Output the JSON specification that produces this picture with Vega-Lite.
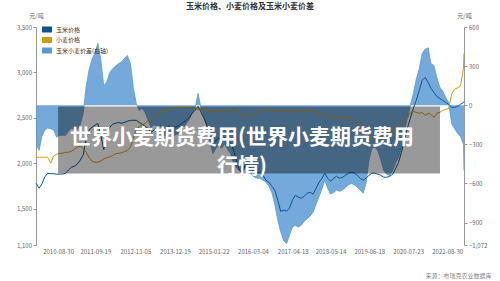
{
  "$schema": "https://vega.github.io/schema/vega-lite/v6.json",
  "width": 428,
  "height": 218,
  "autosize": {"type": "none"},
  "padding": {"left": 36, "top": 27, "right": 36, "bottom": 36},
  "background": "white",
  "config": {
    "view": {"stroke": null},
    "font": "Noto Sans CJK SC",
    "axis": {"grid": false},
    "axisX": {
      "labelExpr": "utcFormat(datum.value, '%Y-%m-%d')",
      "labelFontSize": 6, "labelColor": "#666666", "labelPadding": 3, "labelFlush": false, "labelOverlap": false,
      "domain": false, "ticks": false,
      "titleFontSize": 6, "titleFontWeight": "normal", "titleColor": "#888888",
      "titleX": 455, "titleY": 30, "titleAlign": "right", "titleBaseline": "middle"
    }
  },
  "title": {
    "text": "玉米价格、小麦价格及玉米小麦价差",
    "frame": "group",
    "anchor": "middle",
    "offset": 1,
    "dy": 7,
    "baseline": "bottom",
    "fontSize": 8,
    "fontWeight": "bold",
    "color": "#333333"
  },
  "data": {
    "values": [
      {"date": "2010-01-15", "玉米价格": 1780, "小麦价格": 2066, "玉米小麦价差(右轴)": -300},
      {"date": "2010-02-15", "玉米价格": 1725, "小麦价格": 2066, "玉米小麦价差(右轴)": -345},
      {"date": "2010-03-15", "玉米价格": 1770, "小麦价格": 2066, "玉米小麦价差(右轴)": -240},
      {"date": "2010-04-15", "玉米价格": 1850, "小麦价格": 2066, "玉米小麦价差(右轴)": -190},
      {"date": "2010-05-15", "玉米价格": 1890, "小麦价格": 2066, "玉米小麦价差(右轴)": -175},
      {"date": "2010-06-15", "玉米价格": 1885, "小麦价格": 2000, "玉米小麦价差(右轴)": -180},
      {"date": "2010-07-15", "玉米价格": 1885, "小麦价格": 2080, "玉米小麦价差(右轴)": -190},
      {"date": "2010-08-15", "玉米价格": 1880, "小麦价格": 2099, "玉米小麦价差(右轴)": -245},
      {"date": "2010-09-15", "玉米价格": 1880, "小麦价格": 2110, "玉米小麦价差(右轴)": -230},
      {"date": "2010-10-15", "玉米价格": 1880, "小麦价格": 2110, "玉米小麦价差(右轴)": -230},
      {"date": "2010-11-15", "玉米价格": 1890, "小麦价格": 2121, "玉米小麦价差(右轴)": -230},
      {"date": "2010-12-15", "玉米价格": 1925, "小麦价格": 2121, "玉米小麦价差(右轴)": -200},
      {"date": "2011-01-15", "玉米价格": 1956, "小麦价格": 2132, "玉米小麦价差(右轴)": -175},
      {"date": "2011-02-15", "玉米价格": 1967, "小麦价格": 2154, "玉米小麦价差(右轴)": -185},
      {"date": "2011-03-15", "玉米价格": 1990, "小麦价格": 2176, "玉米小麦价差(右轴)": -185},
      {"date": "2011-04-15", "玉米价格": 2033, "小麦价格": 2187, "玉米小麦价差(右轴)": -150},
      {"date": "2011-05-15", "玉米价格": 2088, "小麦价格": 2165, "玉米小麦价差(右轴)": -70},
      {"date": "2011-06-15", "玉米价格": 2253, "小麦价格": 2121, "玉米小麦价差(右轴)": 137},
      {"date": "2011-07-15", "玉米价格": 2363, "小麦价格": 2066, "玉米小麦价差(右轴)": 267},
      {"date": "2011-08-15", "玉米价格": 2396, "小麦价格": 2022, "玉米小麦价差(右轴)": 350},
      {"date": "2011-09-15", "玉米价格": 2418, "小麦价格": 2011, "玉米小麦价差(右轴)": 405},
      {"date": "2011-10-15", "玉米价格": 2440, "小麦价格": 2011, "玉米小麦价差(右轴)": 475},
      {"date": "2011-11-15", "玉米价格": 2308, "小麦价格": 2025, "玉米小麦价差(右轴)": 344},
      {"date": "2011-12-15", "玉米价格": 2150, "小麦价格": 2050, "玉米小麦价差(右轴)": 150},
      {"date": "2012-01-15", "玉米价格": 2330, "小麦价格": 2060, "玉米小麦价差(右轴)": 180},
      {"date": "2012-02-15", "玉米价格": 2396, "小麦价格": 2072, "玉米小麦价差(右轴)": 250},
      {"date": "2012-03-15", "玉米价格": 2429, "小麦价格": 2085, "玉米小麦价差(右轴)": 280},
      {"date": "2012-04-15", "玉米价格": 2440, "小麦价格": 2105, "玉米小麦价差(右轴)": 300},
      {"date": "2012-05-15", "玉米价格": 2450, "小麦价格": 2110, "玉米小麦价差(右轴)": 320},
      {"date": "2012-06-15", "玉米价格": 2440, "小麦价格": 2115, "玉米小麦价差(右轴)": 330},
      {"date": "2012-07-15", "玉米价格": 2450, "小麦价格": 2128, "玉米小麦价差(右轴)": 360},
      {"date": "2012-08-15", "玉米价格": 2462, "小麦价格": 2140, "玉米小麦价差(右轴)": 382},
      {"date": "2012-09-15", "玉米价格": 2473, "小麦价格": 2180, "玉米小麦价差(右轴)": 321},
      {"date": "2012-10-15", "玉米价格": 2473, "小麦价格": 2275, "玉米小麦价差(右轴)": 137},
      {"date": "2012-11-15", "玉米价格": 2473, "小麦价格": 2380, "玉米小麦价差(右轴)": 10},
      {"date": "2012-12-15", "玉米价格": 2450, "小麦价格": 2400, "玉米小麦价差(右轴)": -40},
      {"date": "2013-01-15", "玉米价格": 2429, "小麦价格": 2425, "玉米小麦价差(右轴)": -20},
      {"date": "2013-02-15", "玉米价格": 2407, "小麦价格": 2440, "玉米小麦价差(右轴)": -60},
      {"date": "2013-03-15", "玉米价格": 2385, "小麦价格": 2470, "玉米小麦价差(右轴)": -110},
      {"date": "2013-04-15", "玉米价格": 2341, "小麦价格": 2485, "玉米小麦价差(右轴)": -170},
      {"date": "2013-05-15", "玉米价格": 2363, "小麦价格": 2505, "玉米小麦价差(右轴)": -150},
      {"date": "2013-06-15", "玉米价格": 2396, "小麦价格": 2535, "玉米小麦价差(右轴)": -160},
      {"date": "2013-07-15", "玉米价格": 2418, "小麦价格": 2560, "玉米小麦价差(右轴)": -140},
      {"date": "2013-08-15", "玉米价格": 2385, "小麦价格": 2576, "玉米小麦价差(右轴)": -210},
      {"date": "2013-09-15", "玉米价格": 2363, "小麦价格": 2588, "玉米小麦价差(右轴)": -240},
      {"date": "2013-10-15", "玉米价格": 2407, "小麦价格": 2598, "玉米小麦价差(右轴)": -200},
      {"date": "2013-11-15", "玉米价格": 2385, "小麦价格": 2605, "玉米小麦价差(右轴)": -240},
      {"date": "2013-12-15", "玉米价格": 2396, "小麦价格": 2615, "玉米小麦价差(右轴)": -230},
      {"date": "2014-01-15", "玉米价格": 2407, "小麦价格": 2615, "玉米小麦价差(右轴)": -220},
      {"date": "2014-02-15", "玉米价格": 2429, "小麦价格": 2615, "玉米小麦价差(右轴)": -190},
      {"date": "2014-03-15", "玉米价格": 2450, "小麦价格": 2615, "玉米小麦价差(右轴)": -170},
      {"date": "2014-04-15", "玉米价格": 2473, "小麦价格": 2615, "玉米小麦价差(右轴)": -140},
      {"date": "2014-05-15", "玉米价格": 2505, "小麦价格": 2615, "玉米小麦价差(右轴)": -110},
      {"date": "2014-06-15", "玉米价格": 2550, "小麦价格": 2610, "玉米小麦价差(右轴)": -60},
      {"date": "2014-07-15", "玉米价格": 2582, "小麦价格": 2604, "玉米小麦价差(右轴)": -20},
      {"date": "2014-08-15", "玉米价格": 2626, "小麦价格": 2595, "玉米小麦价差(右轴)": 90},
      {"date": "2014-09-15", "玉米价格": 2560, "小麦价格": 2592, "玉米小麦价差(右轴)": -30},
      {"date": "2014-10-15", "玉米价格": 2495, "小麦价格": 2585, "玉米小麦价差(右轴)": -90},
      {"date": "2014-11-15", "玉米价格": 2418, "小麦价格": 2582, "玉米小麦价差(右轴)": -165},
      {"date": "2014-12-15", "玉米价格": 2308, "小麦价格": 2582, "玉米小麦价差(右轴)": -275},
      {"date": "2015-01-15", "玉米价格": 2210, "小麦价格": 2582, "玉米小麦价差(右轴)": -370},
      {"date": "2015-02-15", "玉米价格": 2253, "小麦价格": 2582, "玉米小麦价差(右轴)": -330},
      {"date": "2015-03-15", "玉米价格": 2275, "小麦价格": 2582, "玉米小麦价差(右轴)": -305},
      {"date": "2015-04-15", "玉米价格": 2253, "小麦价格": 2582, "玉米小麦价差(右轴)": -330},
      {"date": "2015-05-15", "玉米价格": 2286, "小麦价格": 2582, "玉米小麦价差(右轴)": -295},
      {"date": "2015-06-15", "玉米价格": 2253, "小麦价格": 2590, "玉米小麦价差(右轴)": -335},
      {"date": "2015-07-15", "玉米价格": 2220, "小麦价格": 2593, "玉米小麦价差(右轴)": -370},
      {"date": "2015-08-15", "玉米价格": 2150, "小麦价格": 2588, "玉米小麦价差(右轴)": -440},
      {"date": "2015-09-15", "玉米价格": 2033, "小麦价格": 2582, "玉米小麦价差(右轴)": -480},
      {"date": "2015-10-15", "玉米价格": 1923, "小麦价格": 2570, "玉米小麦价差(右轴)": -500},
      {"date": "2015-11-15", "玉米价格": 1901, "小麦价格": 2545, "玉米小麦价差(右轴)": -520},
      {"date": "2015-12-15", "玉米价格": 1978, "小麦价格": 2527, "玉米小麦价差(右轴)": -480},
      {"date": "2016-01-15", "玉米价格": 2000, "小麦价格": 2518, "玉米小麦价差(右轴)": -470},
      {"date": "2016-02-15", "玉米价格": 1945, "小麦价格": 2520, "玉米小麦价差(右轴)": -530},
      {"date": "2016-03-15", "玉米价格": 1901, "小麦价格": 2545, "玉米小麦价差(右轴)": -550},
      {"date": "2016-04-15", "玉米价格": 1890, "小麦价格": 2560, "玉米小麦价差(右轴)": -560},
      {"date": "2016-05-15", "玉米价格": 1901, "小麦价格": 2582, "玉米小麦价差(右轴)": -560},
      {"date": "2016-06-15", "玉米价格": 1868, "小麦价格": 2590, "玉米小麦价差(右轴)": -575},
      {"date": "2016-07-15", "玉米价格": 1813, "小麦价格": 2590, "玉米小麦价差(右轴)": -590},
      {"date": "2016-08-15", "玉米价格": 1791, "小麦价格": 2585, "玉米小麦价差(右轴)": -620},
      {"date": "2016-09-15", "玉米价格": 1747, "小麦价格": 2582, "玉米小麦价差(右轴)": -670},
      {"date": "2016-10-15", "玉米价格": 1703, "小麦价格": 2582, "玉米小麦价差(右轴)": -760},
      {"date": "2016-11-15", "玉米价格": 1593, "小麦价格": 2582, "玉米小麦价差(右轴)": -880},
      {"date": "2016-12-15", "玉米价格": 1470, "小麦价格": 2582, "玉米小麦价差(右轴)": -970},
      {"date": "2017-01-15", "玉米价格": 1484, "小麦价格": 2582, "玉米小麦价差(右轴)": -1040},
      {"date": "2017-02-15", "玉米价格": 1473, "小麦价格": 2582, "玉米小麦价差(右轴)": -1060},
      {"date": "2017-03-15", "玉米价格": 1505, "小麦价格": 2582, "玉米小麦价差(右轴)": -1000},
      {"date": "2017-04-15", "玉米价格": 1593, "小麦价格": 2582, "玉米小麦价差(右轴)": -935},
      {"date": "2017-05-15", "玉米价格": 1648, "小麦价格": 2582, "玉米小麦价差(右轴)": -920},
      {"date": "2017-06-15", "玉米价格": 1626, "小麦价格": 2582, "玉米小麦价差(右轴)": -935},
      {"date": "2017-07-15", "玉米价格": 1615, "小麦价格": 2582, "玉米小麦价差(右轴)": -920},
      {"date": "2017-08-15", "玉米价格": 1637, "小麦价格": 2582, "玉米小麦价差(右轴)": -890},
      {"date": "2017-09-15", "玉米价格": 1670, "小麦价格": 2582, "玉米小麦价差(右轴)": -870},
      {"date": "2017-10-15", "玉米价格": 1681, "小麦价格": 2582, "玉米小麦价差(右轴)": -850},
      {"date": "2017-11-15", "玉米价格": 1659, "小麦价格": 2575, "玉米小麦价差(右轴)": -820},
      {"date": "2017-12-15", "玉米价格": 1725, "小麦价格": 2560, "玉米小麦价差(右轴)": -760},
      {"date": "2018-01-15", "玉米价格": 1791, "小麦价格": 2552, "玉米小麦价差(右轴)": -700},
      {"date": "2018-02-15", "玉米价格": 1835, "小麦价格": 2545, "玉米小麦价差(右轴)": -640},
      {"date": "2018-03-15", "玉米价格": 1890, "小麦价格": 2530, "玉米小麦价差(右轴)": -575},
      {"date": "2018-04-15", "玉米价格": 1835, "小麦价格": 2520, "玉米小麦价差(右轴)": -640},
      {"date": "2018-05-15", "玉米价格": 1802, "小麦价格": 2516, "玉米小麦价差(右轴)": -680},
      {"date": "2018-06-15", "玉米价格": 1835, "小麦价格": 2512, "玉米小麦价差(右轴)": -670},
      {"date": "2018-07-15", "玉米价格": 1857, "小麦价格": 2508, "玉米小麦价差(右轴)": -650},
      {"date": "2018-08-15", "玉米价格": 1835, "小麦价格": 2505, "玉米小麦价差(右轴)": -660},
      {"date": "2018-09-15", "玉米价格": 1846, "小麦价格": 2503, "玉米小麦价差(右轴)": -650},
      {"date": "2018-10-15", "玉米价格": 1868, "小麦价格": 2500, "玉米小麦价差(右轴)": -630},
      {"date": "2018-11-15", "玉米价格": 1890, "小麦价格": 2497, "玉米小麦价差(右轴)": -610},
      {"date": "2018-12-15", "玉米价格": 1901, "小麦价格": 2480, "玉米小麦价差(右轴)": -600},
      {"date": "2019-01-15", "玉米价格": 1890, "小麦价格": 2460, "玉米小麦价差(右轴)": -610},
      {"date": "2019-02-15", "玉米价格": 1868, "小麦价格": 2445, "玉米小麦价差(右轴)": -630},
      {"date": "2019-03-15", "玉米价格": 1835, "小麦价格": 2425, "玉米小麦价差(右轴)": -650},
      {"date": "2019-04-15", "玉米价格": 1813, "小麦价格": 2405, "玉米小麦价差(右轴)": -675},
      {"date": "2019-05-15", "玉米价格": 1835, "小麦价格": 2340, "玉米小麦价差(右轴)": -600},
      {"date": "2019-06-15", "玉米价格": 1868, "小麦价格": 2253, "玉米小麦价差(右轴)": -420},
      {"date": "2019-07-15", "玉米价格": 1890, "小麦价格": 2275, "玉米小麦价差(右轴)": -330},
      {"date": "2019-08-15", "玉米价格": 1890, "小麦价格": 2286, "玉米小麦价差(右轴)": -320},
      {"date": "2019-09-15", "玉米价格": 1879, "小麦价格": 2286, "玉米小麦价差(右轴)": -350},
      {"date": "2019-10-15", "玉米价格": 1868, "小麦价格": 2290, "玉米小麦价差(右轴)": -420},
      {"date": "2019-11-15", "玉米价格": 1846, "小麦价格": 2297, "玉米小麦价差(右轴)": -500},
      {"date": "2019-12-15", "玉米价格": 1846, "小麦价格": 2319, "玉米小麦价差(右轴)": -530},
      {"date": "2020-01-15", "玉米价格": 1857, "小麦价格": 2341, "玉米小麦价差(右轴)": -540},
      {"date": "2020-02-15", "玉米价格": 1879, "小麦价格": 2363, "玉米小麦价差(右轴)": -500},
      {"date": "2020-03-15", "玉米价格": 1940, "小麦价格": 2390, "玉米小麦价差(右轴)": -440},
      {"date": "2020-04-15", "玉米价格": 2010, "小麦价格": 2418, "玉米小麦价差(右轴)": -400},
      {"date": "2020-05-15", "玉米价格": 2121, "小麦价格": 2440, "玉米小麦价差(右轴)": -330},
      {"date": "2020-06-15", "玉米价格": 2253, "小麦价格": 2462, "玉米小麦价差(右轴)": -200},
      {"date": "2020-07-15", "玉米价格": 2385, "小麦价格": 2495, "玉米小麦价差(右轴)": -100},
      {"date": "2020-08-15", "玉米价格": 2495, "小麦价格": 2560, "玉米小麦价差(右轴)": 0},
      {"date": "2020-09-15", "玉米价格": 2604, "小麦价格": 2571, "玉米小麦价差(右轴)": 90},
      {"date": "2020-10-15", "玉米价格": 2692, "小麦价格": 2560, "玉米小麦价差(右轴)": 200},
      {"date": "2020-11-15", "玉米价格": 2802, "小麦价格": 2549, "玉米小麦价差(右轴)": 280},
      {"date": "2020-12-15", "玉米价格": 2912, "小麦价格": 2560, "玉米小麦价差(右轴)": 397},
      {"date": "2021-01-15", "玉米价格": 2945, "小麦价格": 2527, "玉米小麦价差(右轴)": 430},
      {"date": "2021-02-15", "玉米价格": 2890, "小麦价格": 2549, "玉米小麦价差(右轴)": 440},
      {"date": "2021-03-15", "玉米价格": 2824, "小麦价格": 2538, "玉米小麦价差(右轴)": 320},
      {"date": "2021-04-15", "玉米价格": 2780, "小麦价格": 2505, "玉米小麦价差(右轴)": 305},
      {"date": "2021-05-15", "玉米价格": 2736, "小麦价格": 2549, "玉米小麦价差(右轴)": 214},
      {"date": "2021-06-15", "玉米价格": 2714, "小麦价格": 2560, "玉米小麦价差(右轴)": 138},
      {"date": "2021-07-15", "玉米价格": 2692, "小麦价格": 2582, "玉米小麦价差(右轴)": 110},
      {"date": "2021-08-15", "玉米价格": 2670, "小麦价格": 2593, "玉米小麦价差(右轴)": 60},
      {"date": "2021-09-15", "玉米价格": 2648, "小麦价格": 2604, "玉米小麦价差(右轴)": 22},
      {"date": "2021-10-15", "玉米价格": 2615, "小麦价格": 2760, "玉米小麦价差(右轴)": -140},
      {"date": "2021-11-15", "玉米价格": 2615, "小麦价格": 2815, "玉米小麦价差(右轴)": -180},
      {"date": "2021-12-15", "玉米价格": 2626, "小麦价格": 2830, "玉米小麦价差(右轴)": -215},
      {"date": "2022-01-15", "玉米价格": 2648, "小麦价格": 2850, "玉米小麦价差(右轴)": -240},
      {"date": "2022-02-15", "玉米价格": 2670, "小麦价格": 3050, "玉米小麦价差(右轴)": -300},
      {"date": "2022-02-20", "玉米价格": 2681, "小麦价格": 3209, "玉米小麦价差(右轴)": -500}
    ]
  },
  "layer": [
    {
      "transform": [{"fold": ["玉米小麦价差(右轴)"], "as": ["series", "value"]}],
      "mark": {"type": "area", "opacity": 0.85, "line": {"strokeWidth": 0.8}},
      "encoding": {
        "x": {
          "field": "date", "type": "temporal",
          "scale": {"type": "utc", "domain": [{"year": 2010, "month": 1, "date": 14, "utc": true}, {"year": 2022, "month": 2, "date": 20, "utc": true}]},
          "axis": {
            "title": "来源：布瑞克农业数据库",
            "values": [
              {"year": 2010, "month": 8, "date": 30, "utc": true},
              {"year": 2011, "month": 9, "date": 19, "utc": true},
              {"year": 2012, "month": 11, "date": 5, "utc": true},
              {"year": 2013, "month": 12, "date": 19, "utc": true},
              {"year": 2015, "month": 1, "date": 22, "utc": true},
              {"year": 2016, "month": 3, "date": 4, "utc": true},
              {"year": 2017, "month": 4, "date": 18, "utc": true},
              {"year": 2018, "month": 5, "date": 14, "utc": true},
              {"year": 2019, "month": 6, "date": 18, "utc": true},
              {"year": 2020, "month": 7, "date": 23, "utc": true},
              {"year": 2021, "month": 8, "date": 30, "utc": true}
            ]
          }
        },
        "y": {
          "field": "value", "type": "quantitative",
          "scale": {"domain": [-1072, 600], "nice": false, "zero": false},
          "axis": {
            "orient": "right", "values": [-1072, -900, -600, -300, 0, 300, 600], "format": ",d",
            "labelFontSize": 6, "labelColor": "#666666", "labelPadding": 1.5,
            "domainColor": "#999999", "tickColor": "#999999", "tickSize": 3,
            "title": "元/吨", "titleAngle": 0, "titleX": 0, "titleY": -11.5, "titleAlign": "center", "titleBaseline": "middle",
            "titleFontSize": 6, "titleFontWeight": "normal", "titleColor": "#666666"
          }
        },
        "y2": {"datum": 0},
        "color": {
          "field": "series", "type": "nominal",
          "scale": {"domain": ["玉米价格", "小麦价格", "玉米小麦价差(右轴)"], "range": ["#0E5490", "#C9A00E", "#5B9BD5"]},
          "legend": {
            "orient": "none", "legendX": 6, "legendY": -2.5, "title": null,
            "symbolType": "M-1,-0.6L1,-0.6L1,0.6L-1,0.6Z", "symbolSize": 100,
            "symbolOpacity": 1, "symbolStrokeWidth": 0,
            "labelFontSize": 6, "labelColor": "#333333", "labelOffset": 4, "rowPadding": 2.5
          }
        }
      }
    },
    {
      "layer": [
        {
          "transform": [{"fold": ["玉米价格", "小麦价格"], "as": ["series", "value"]}],
          "mark": {"type": "line", "strokeWidth": 1},
          "encoding": {
            "x": {
              "field": "date", "type": "temporal",
              "scale": {"type": "utc", "domain": [{"year": 2010, "month": 1, "date": 14, "utc": true}, {"year": 2022, "month": 2, "date": 20, "utc": true}]},
              "axis": {
                "title": "来源：布瑞克农业数据库",
                "values": [
                  {"year": 2010, "month": 8, "date": 30, "utc": true},
                  {"year": 2011, "month": 9, "date": 19, "utc": true},
                  {"year": 2012, "month": 11, "date": 5, "utc": true},
                  {"year": 2013, "month": 12, "date": 19, "utc": true},
                  {"year": 2015, "month": 1, "date": 22, "utc": true},
                  {"year": 2016, "month": 3, "date": 4, "utc": true},
                  {"year": 2017, "month": 4, "date": 18, "utc": true},
                  {"year": 2018, "month": 5, "date": 14, "utc": true},
                  {"year": 2019, "month": 6, "date": 18, "utc": true},
                  {"year": 2020, "month": 7, "date": 23, "utc": true},
                  {"year": 2021, "month": 8, "date": 30, "utc": true}
                ]
              }
            },
            "y": {
              "field": "value", "type": "quantitative",
              "scale": {"domain": [1100, 3500], "nice": false, "zero": false},
              "axis": {
                "orient": "left", "values": [1100, 1500, 2000, 2500, 3000, 3500], "format": ",d",
                "labelFontSize": 6, "labelColor": "#666666", "labelPadding": 1.5,
                "domainColor": "#999999", "tickColor": "#999999", "tickSize": 3,
                "title": "元/吨", "titleAngle": 0, "titleX": 0, "titleY": -11.5, "titleAlign": "center", "titleBaseline": "middle",
                "titleFontSize": 6, "titleFontWeight": "normal", "titleColor": "#666666"
              }
            },
            "color": {"field": "series", "type": "nominal", "legend": null}
          }
        },
        {
          "data": {"values": [{}]},
          "mark": {"type": "rect", "color": "#000000", "opacity": 0.4},
          "encoding": {
            "x": {
              "datum": {"year": 2010, "month": 8, "date": 30, "utc": true}, "type": "temporal",
              "axis": {
                "title": "来源：布瑞克农业数据库",
                "values": [
                  {"year": 2010, "month": 8, "date": 30, "utc": true},
                  {"year": 2011, "month": 9, "date": 19, "utc": true},
                  {"year": 2012, "month": 11, "date": 5, "utc": true},
                  {"year": 2013, "month": 12, "date": 19, "utc": true},
                  {"year": 2015, "month": 1, "date": 22, "utc": true},
                  {"year": 2016, "month": 3, "date": 4, "utc": true},
                  {"year": 2017, "month": 4, "date": 18, "utc": true},
                  {"year": 2018, "month": 5, "date": 14, "utc": true},
                  {"year": 2019, "month": 6, "date": 18, "utc": true},
                  {"year": 2020, "month": 7, "date": 23, "utc": true},
                  {"year": 2021, "month": 8, "date": 30, "utc": true}
                ]
              }
            },
            "x2": {"datum": {"year": 2021, "month": 6, "date": 17, "utc": true}},
            "y": {"datum": 2626, "type": "quantitative"},
            "y2": {"datum": 1887}
          }
        },
        {
          "data": {"values": [{}]},
          "mark": {"type": "text", "color": "#ffffff", "fontSize": 21, "fontWeight": "bold", "align": "center", "baseline": "middle", "lineHeight": 29, "font": "Noto Sans CJK SC"},
          "encoding": {
            "x": {
              "datum": {"year": 2015, "month": 11, "date": 11, "utc": true}, "type": "temporal",
              "axis": {
                "title": "来源：布瑞克农业数据库",
                "values": [
                  {"year": 2010, "month": 8, "date": 30, "utc": true},
                  {"year": 2011, "month": 9, "date": 19, "utc": true},
                  {"year": 2012, "month": 11, "date": 5, "utc": true},
                  {"year": 2013, "month": 12, "date": 19, "utc": true},
                  {"year": 2015, "month": 1, "date": 22, "utc": true},
                  {"year": 2016, "month": 3, "date": 4, "utc": true},
                  {"year": 2017, "month": 4, "date": 18, "utc": true},
                  {"year": 2018, "month": 5, "date": 14, "utc": true},
                  {"year": 2019, "month": 6, "date": 18, "utc": true},
                  {"year": 2020, "month": 7, "date": 23, "utc": true},
                  {"year": 2021, "month": 8, "date": 30, "utc": true}
                ]
              }
            },
            "y": {"datum": 2283, "type": "quantitative"},
            "text": {"value": ["世界小麦期货费用(世界小麦期货费用", "行情)"]}
          }
        }
      ]
    }
  ],
  "resolve": {"scale": {"y": "independent"}}
}
